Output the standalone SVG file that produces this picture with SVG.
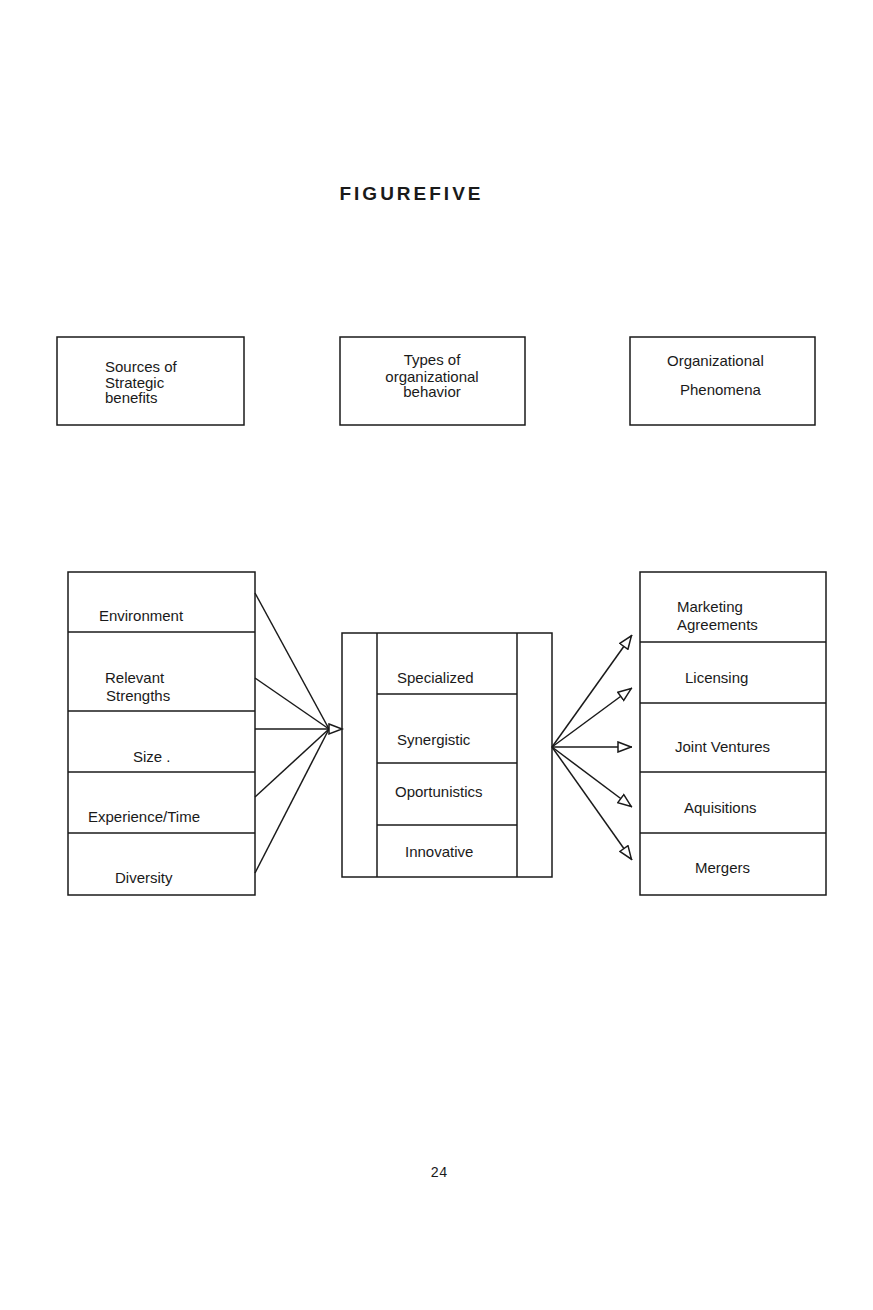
<svg xmlns="http://www.w3.org/2000/svg" width="873" height="1310" viewBox="0 0 873 1310">
<defs>
<style>
.bx{fill:none;stroke:#1a1a1a;stroke-width:1.5}
.ln{stroke:#1a1a1a;stroke-width:1.5;fill:none}
.t{font-family:"Liberation Sans",Arial,sans-serif;font-size:15px;fill:#1a1a1a}
.tm{text-anchor:middle}
</style>
<marker id="ah" viewBox="0 0 15 12" refX="15" refY="6" markerWidth="15" markerHeight="12" markerUnits="userSpaceOnUse" orient="auto">
<path d="M1,1 L14,6 L1,11 z" fill="#fff" stroke="#1a1a1a" stroke-width="1.5"/>
</marker>
</defs>
<rect width="873" height="1310" fill="#fff"/>
<g id="title">
<text x="410" y="200" class="t tm" style="font-weight:bold;font-size:19px" textLength="141" lengthAdjust="spacing">FIGUREFIVE</text>
</g>
<g id="hdr-sources">
<rect x="57" y="337" width="187" height="88" class="bx"/>
<text x="105" y="372" class="t">Sources of</text>
<text x="105" y="388" class="t">Strategic</text>
<text x="105" y="403" class="t">benefits</text>
</g>
<g id="hdr-types">
<rect x="340" y="337" width="185" height="88" class="bx"/>
<text x="432" y="365" class="t tm">Types of</text>
<text x="432" y="382" class="t tm">organizational</text>
<text x="432" y="397" class="t tm">behavior</text>
</g>
<g id="hdr-phenomena">
<rect x="630" y="337" width="185" height="88" class="bx"/>
<text x="667" y="366" class="t">Organizational</text>
<text x="680" y="395" class="t">Phenomena</text>
</g>
<g id="sources">
<rect x="68" y="572" width="187" height="323" class="bx"/>
<line x1="68" y1="632" x2="255" y2="632" class="ln"/>
<line x1="68" y1="711" x2="255" y2="711" class="ln"/>
<line x1="68" y1="772" x2="255" y2="772" class="ln"/>
<line x1="68" y1="833" x2="255" y2="833" class="ln"/>
<text x="141" y="621" class="t tm">Environment</text>
<text x="105" y="683" class="t">Relevant</text>
<text x="106" y="701" class="t">Strengths</text>
<text x="133" y="762" class="t">Size .</text>
<text x="88" y="822" class="t">Experience/Time</text>
<text x="115" y="883" class="t">Diversity</text>
</g>
<g id="types">
<rect x="342" y="633" width="210" height="244" class="bx"/>
<line x1="377" y1="633" x2="377" y2="877" class="ln"/>
<line x1="517" y1="633" x2="517" y2="877" class="ln"/>
<line x1="377" y1="694" x2="517" y2="694" class="ln"/>
<line x1="377" y1="763" x2="517" y2="763" class="ln"/>
<line x1="377" y1="825" x2="517" y2="825" class="ln"/>
<text x="397" y="683" class="t">Specialized</text>
<text x="397" y="745" class="t">Synergistic</text>
<text x="395" y="797" class="t">Oportunistics</text>
<text x="405" y="857" class="t">Innovative</text>
</g>
<g id="phenomena">
<rect x="640" y="572" width="186" height="323" class="bx"/>
<line x1="640" y1="642" x2="826" y2="642" class="ln"/>
<line x1="640" y1="703" x2="826" y2="703" class="ln"/>
<line x1="640" y1="772" x2="826" y2="772" class="ln"/>
<line x1="640" y1="833" x2="826" y2="833" class="ln"/>
<text x="677" y="612" class="t">Marketing</text>
<text x="677" y="630" class="t">Agreements</text>
<text x="685" y="683" class="t">Licensing</text>
<text x="675" y="752" class="t">Joint Ventures</text>
<text x="684" y="813" class="t">Aquisitions</text>
<text x="695" y="873" class="t">Mergers</text>
</g>
<g id="connectors">
<line x1="255" y1="593" x2="329" y2="729" class="ln"/>
<line x1="255" y1="678" x2="329" y2="729" class="ln"/>
<line x1="255" y1="729" x2="329" y2="729" class="ln"/>
<line x1="255" y1="797" x2="329" y2="729" class="ln"/>
<line x1="255" y1="873" x2="329" y2="729" class="ln"/>
<path d="M329,724 L342,729 L329,734 z" fill="#fff" stroke="#1a1a1a" stroke-width="1.5"/>
<line x1="552" y1="747" x2="632" y2="635" class="ln" marker-end="url(#ah)"/>
<line x1="552" y1="747" x2="632" y2="688" class="ln" marker-end="url(#ah)"/>
<line x1="552" y1="747" x2="632" y2="747" class="ln" marker-end="url(#ah)"/>
<line x1="552" y1="747" x2="632" y2="807" class="ln" marker-end="url(#ah)"/>
<line x1="552" y1="747" x2="632" y2="860" class="ln" marker-end="url(#ah)"/>
</g>
<g id="page-number">
<text x="439" y="1177" class="t tm" style="font-family:'Liberation Mono',monospace;font-size:14px">24</text>
</g>
</svg>
